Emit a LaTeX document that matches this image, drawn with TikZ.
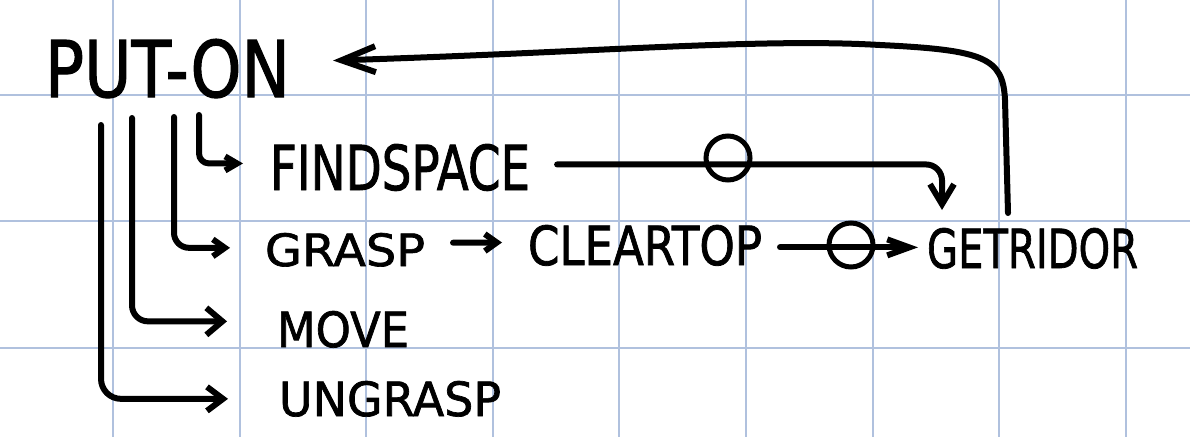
\documentclass[tikz,border=0pt]{standalone}
\usepackage{fontspec}
\setmainfont{DejaVu Sans}
\newfontfamily\handfont[FakeBold=1.5]{DejaVu Sans}
\usetikzlibrary{arrows.meta}
\definecolor{gridblue}{RGB}{176,193,222}
\begin{document}
\begin{tikzpicture}[x=1pt,y=-1pt,
  lbl/.style={inner sep=0pt, outer sep=0pt, anchor=north west, font=\handfont},
  conn/.style={line width=6pt, line cap=round, line join=round},
  ring/.style={circle, draw, line width=5pt, minimum size=44pt, inner sep=0pt},
  gridline/.style={gridblue, line width=2pt}]
\fill[white] (0,0) rectangle (1190,437);
\useasboundingbox (0,0) rectangle (1190,437);
\foreach \gx in {113,239.6,366.2,492.8,619.4,746,872.6,999.2,1125.8}
  \draw[gridline] (\gx,0) -- (\gx,437);
\foreach \gy in {94.5,221,347.5}
  \draw[gridline] (0,\gy) -- (1190,\gy);

% labels
\node[lbl] (put)      at (45,39)   {\resizebox{245pt}{58pt}{PUT-ON}};
\node[lbl] (find)     at (270,144) {\resizebox{260pt}{46pt}{FINDSPACE}};
\node[lbl] (grasp)    at (265,233) {\resizebox{160pt}{33pt}{GRASP}};
\node[lbl] (cleartop) at (528,225) {\resizebox{234pt}{40pt}{CLEARTOP}};
\node[lbl] (getridor) at (927,228) {\resizebox{211pt}{40pt}{GETRIDOR}};
\node[lbl] (move)     at (277,311) {\resizebox{132pt}{36pt}{MOVE}};
\node[lbl] (ungrasp)  at (279,381) {\resizebox{222pt}{35pt}{UNGRASP}};

% stem starts below PUT-ON
\coordinate (s1) at (101,125);
\coordinate (s2) at (132,118);
\coordinate (s3) at (174,117);
\coordinate (s4) at (199,115);

\draw[conn, rounded corners=10pt, -{Straight Barb[length=12pt,width=14pt]}, shorten >=27pt]
  (s4) |- ([yshift=4pt]find.west);
\draw[conn, rounded corners=15pt, -{Straight Barb[length=12pt,width=17pt]}, shorten >=35pt]
  (s3) |- ([yshift=2pt]grasp.west);
\draw[conn, rounded corners=16pt, -{Straight Barb[length=16pt,width=27pt]}, shorten >=50pt]
  (s2) |- ([yshift=8pt]move.west);
\draw[conn, rounded corners=20pt, -{Straight Barb[length=16pt,width=24pt]}, shorten >=51pt]
  (s1) |- (ungrasp.west);

% GRASP -> CLEARTOP
\draw[conn, -{Straight Barb[length=12pt,width=17pt]}, shorten <=28pt, shorten >=26pt]
  ([yshift=7pt]grasp.east) -- ([yshift=3pt]cleartop.west);

% CLEARTOP -> GETRIDOR with ring
\draw[conn, -{Straight Barb[length=22pt,width=16pt]}, shorten <=18pt, shorten >=9pt]
  ([yshift=-2pt]cleartop.east) -- ([yshift=1pt]getridor.west);
\node[ring] (c2) at (851,245) {};

% FINDSPACE -> GETRIDOR with ring
\draw[conn, rounded corners=16pt, -{Straight Barb[length=20pt,width=24pt]}, shorten <=27pt, shorten >=18pt]
  ([yshift=3pt]find.east) -| ([xshift=15pt]getridor.north west);
\node[ring] (c1) at (728,158) {};

% GETRIDOR -> PUT-ON
\draw[conn, -{Straight Barb[length=34pt,width=26pt]}]
  ([xshift=81pt,yshift=15pt]getridor.north west) -- (1005,100)
  .. controls (1003,58) and (985,50) .. (880,45)
  .. controls (760,38) and (600,52) .. ([xshift=43pt,yshift=8pt]put.east);
\end{tikzpicture}
\end{document}
